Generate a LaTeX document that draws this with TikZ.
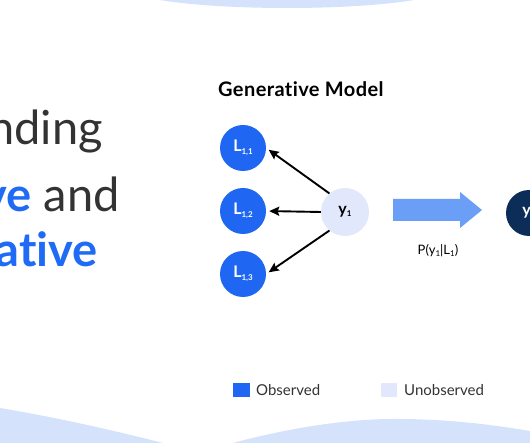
\documentclass[tikz,border=0pt]{standalone}
\usepackage{fontspec}
\setmainfont{Lato}[Ligatures=NoCommon]
\usetikzlibrary{arrows.meta}
\definecolor{obs}{HTML}{1F66F2}
\definecolor{unobs}{HTML}{E2E8FB}
\definecolor{bigarrow}{HTML}{6B9EF6}
\definecolor{navy}{HTML}{0C2D57}
\definecolor{blob}{HTML}{D4E3FB}
\definecolor{txtgray}{HTML}{333333}
\definecolor{accent}{HTML}{1F6BF5}
\newcommand{\subtxt}[2][-3.5pt]{\raisebox{#1}{\fontsize{8}{9}\selectfont #2}}
\tikzset{
  lnode/.style={circle, fill=obs, minimum size=46pt, inner sep=0pt, text=white, font=\bfseries\fontsize{16}{18}\selectfont},
  ynode/.style={circle, fill=unobs, minimum size=48pt, inner sep=0pt, text=black, font=\bfseries\fontsize{16}{18}\selectfont},
  navynode/.style={circle, fill=navy, minimum size=46pt, inner sep=0pt, text=white, font=\bfseries\fontsize{16}{18}\selectfont},
  conn/.style={line width=1.9pt, shorten >=3pt, -{Stealth[length=10pt,width=9pt,inset=1.5pt]}},
  bigtext/.style={inner sep=0pt, font=\fontsize{47}{54}\selectfont},
  legtext/.style={inner sep=0pt, anchor=west, font=\fontsize{15}{17}\selectfont, text=txtgray},
}
\begin{document}
\begin{tikzpicture}[x=1pt,y=-1pt]
\useasboundingbox (0,0) rectangle (530,443);
\clip (0,0) rectangle (530,443);
\fill[white] (0,0) rectangle (530,443);
% background blobs
\fill[blob] (287,-12) ellipse [x radius=159, y radius=20];
\fill[blob] (0,408) .. controls (60,418) and (120,432) .. (163,443) -- (0,443) -- cycle;
\fill[blob] (233,443) .. controls (300,425) and (360,418) .. (405,419) .. controls (460,420) and (500,426) .. (530,431) -- (530,443) -- cycle;
% left title text
\node[bigtext, anchor=base east, text=txtgray] (t1) at (103,145) {nding};
\node[bigtext, anchor=base east, text=txtgray] (t2) at (120,212) {\textcolor{accent}{\bfseries ve} and};
\node[bigtext, anchor=base east, text=accent] (t3) at (98,267) {\bfseries ative};
% heading
\node[inner sep=0pt, anchor=base west, font=\bfseries\fontsize{20}{23}\selectfont\addfontfeatures{LetterSpace=2}] (head) at (218,97) {Generative Model};
% nodes
\node[lnode] (l1) at (243,148) {L\subtxt{1,1}};
\node[lnode] (l2) at (243,211) {L\subtxt{1,2}};
\node[lnode] (l3) at (243,274) {L\subtxt{1,3}};
\node[ynode] (y1) at (345,212) {y\subtxt[-2pt]{1}};
\node[navynode] (y2) at (529,213) {y\subtxt[-2pt]{1}};
% connectors
\draw[conn] (y1.130) -- (l1.east);
\draw[conn] (y1.west) -- (l2.east);
\draw[conn] (y1.230) -- (l3.east);
% big arrow
\fill[bigarrow] (393,199) -- (460,199) -- (460,192) -- (482,210) -- (460,228) -- (460,221) -- (393,221) -- cycle;
\node[inner sep=0pt, font=\fontsize{13}{15}\selectfont] (plabel) at (438,251) {P(y\subtxt[-1.5pt]{1}|L\subtxt[-1.5pt]{1})};
% legend
\fill[obs] (233,383) rectangle (250,397);
\node[legtext] (lobs) at (256,390) {Observed};
\fill[unobs] (381,383) rectangle (397,397);
\node[legtext] (lunobs) at (404,390) {Unobserved};
\end{tikzpicture}
\end{document}
